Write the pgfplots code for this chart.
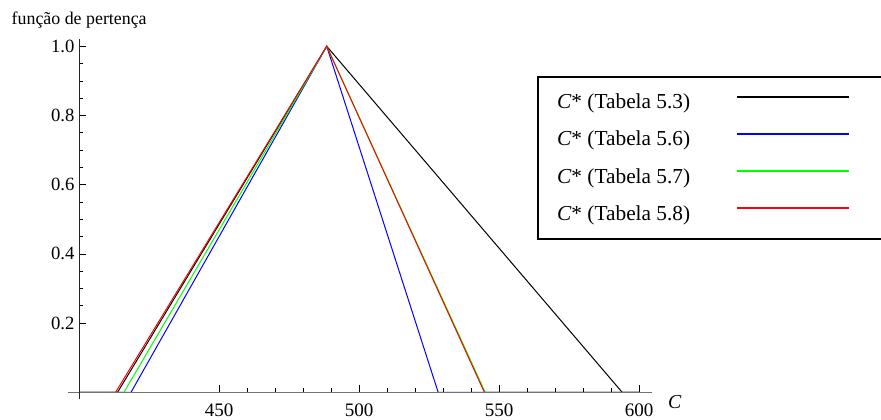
\documentclass[border=0pt]{standalone}
\usepackage{fontspec}
\setmainfont{Liberation Serif}
\usepackage{pgfplots}
\pgfplotsset{compat=1.18}

\definecolor{axisgray}{gray}{0.45}

\begin{document}
\begin{tikzpicture}
% page of 881 x 420 px, 1 px = 0.75 pt
\useasboundingbox (0,0) rectangle (660.75pt,315pt);
\begin{axis}[
  at={(51pt,15.6pt)}, anchor=south west,
  x=2.1pt, y=259.5pt,
  xmin=396, xmax=604.4, ymin=-0.02, ymax=1.02,
  axis x line=middle,
  axis y line=left,
  axis y line shift=-8.4pt,
  axis line style={-},
  x axis line style={axisgray, line width=0.6pt},
  y axis line style={black!85, line width=0.6pt},
  axis on top,
  clip=false,
  xtick={450,500,550,600},
  minor x tick num=4,
  ytick={0.2,0.4,0.6,0.8,1.0},
  minor y tick num=3,
  tick align=inside,
  major tick length=5.25pt,
  minor tick length=3pt,
  tick style={black, line width=0.5pt},
  /pgf/number format/assume math mode=true,
  yticklabel style={/pgf/number format/fixed, /pgf/number format/fixed zerofill,
    /pgf/number format/precision=1, font=\fontsize{14}{16}\selectfont},
  xticklabel style={font=\fontsize{14.3}{16}\selectfont, yshift=-5pt},
  every axis x label/.style={at={(axis description cs:1,0.01923)}, anchor=base west,
    inner sep=0pt, xshift=12.2pt, yshift=-11.8pt, font=\fontsize{14.8}{17}\selectfont},
  every axis y label/.style={at={(axis description cs:0.01919,1)}, anchor=base,
    inner sep=0pt, yshift=11.2pt, font=\fontsize{13.4}{16}\selectfont},
  xlabel={\textit{C}},
  ylabel={função de pertença},
  legend plot pos=right,
  legend cell align=left,
  legend image code/.code={\draw[#1, line width=1.5pt] (0pt,4pt) -- (84pt,4pt);
    \path[draw=none, fill=none] (84pt,4pt) -- (140pt,4pt);},
  legend style={at={(axis description cs:0.8032,0.8985)}, anchor=north west,
    draw=black, line width=1.5pt, font=\fontsize{16}{18}\selectfont,
    inner xsep=12.5pt, inner ysep=10.7pt, row sep=11.3pt, column sep=32.3pt},
]
\addplot[black, line width=0.75pt] coordinates {(400,0) (413.7,0) (488.4,1) (593.9,0) (600,0)};
\addlegendentry{\textit{C}* (Tabela 5.3)}
\addplot[blue, line width=0.75pt] coordinates {(400,0) (418.5,0) (488.4,1) (528.2,0) (600,0)};
\addlegendentry{\textit{C}* (Tabela 5.6)}
\addplot[green, line width=0.75pt] coordinates {(400,0) (416.0,0) (488.4,1) (545.0,0) (600,0)};
\addlegendentry{\textit{C}* (Tabela 5.7)}
\addplot[red, line width=0.75pt] coordinates {(400,0) (413.0,0) (488.4,1) (544.7,0) (600,0)};
\addlegendentry{\textit{C}* (Tabela 5.8)\rule[-7.7pt]{0pt}{0pt}}
\end{axis}
\end{tikzpicture}
\end{document}
